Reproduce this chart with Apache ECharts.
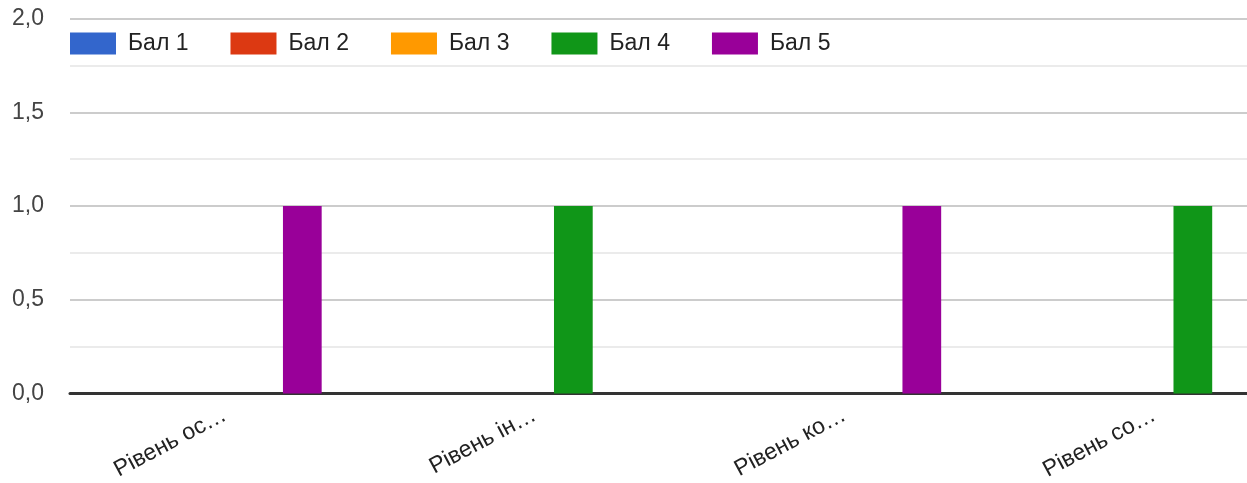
<!DOCTYPE html>
<html>
<head>
<meta charset="utf-8">
<script src="https://cdn.jsdelivr.net/npm/echarts@6/dist/echarts.min.js"></script>
<style>
html,body{margin:0;padding:0;background:#fff;overflow:hidden;width:1247px;height:483px;}
#chart{width:1310px;height:483px;}
</style>
</head>
<body>
<div id="chart"></div>
<script>
const categories = ['Рівень ос…', 'Рівень ін…', 'Рівень ко…', 'Рівень со…'];
const seriesNames = ['Бал 1', 'Бал 2', 'Бал 3', 'Бал 4', 'Бал 5'];
const bal1 = [0, 0, 0, 0];
const bal2 = [0, 0, 0, 0];
const bal3 = [0, 0, 0, 0];
const bal4 = [0, 1, 0, 1];
const bal5 = [1, 0, 1, 0];
const colors = ['#3366cc', '#dc3912', '#ff9900', '#109618', '#990099'];
const yTicks = [0, 0.5, 1, 1.5, 2];

const values = [bal1, bal2, bal3, bal4, bal5];
const FONT = '"Liberation Sans", Arial, sans-serif';

const chart = echarts.init(document.getElementById('chart'), null, {renderer: 'canvas'});
chart.setOption({
  animation: false,
  color: colors,
  legend: {
    left: 70,
    top: 32,
    padding: 0,
    itemWidth: 46,
    itemHeight: 22,
    itemGap: 42,
    icon: 'rect',
    textStyle: {fontFamily: FONT, fontSize: 23, color: '#222', padding: [0, 0, 0, 7]},
    data: seriesNames
  },
  grid: {left: 70, right: 1, top: 18.5, bottom: 89.5, containLabel: false, outerBoundsMode: 'none'},
  xAxis: {
    type: 'category',
    data: categories,
    axisLine: {show: true, lineStyle: {color: '#333', width: 3}},
    axisTick: {show: false},
    axisLabel: {
      interval: 0,
      rotate: 28,
      margin: 20,
      fontFamily: FONT,
      fontSize: 23,
      color: '#222'
    }
  },
  yAxis: {
    type: 'value',
    min: yTicks[0],
    max: yTicks[yTicks.length - 1],
    interval: 0.5,
    axisLine: {show: false},
    axisTick: {show: false},
    axisLabel: {
      margin: 26,
      fontFamily: FONT,
      fontSize: 23,
      color: '#444',
      formatter: v => v.toFixed(1).replace('.', ',')
    },
    splitLine: {show: true, lineStyle: {color: '#cccccc', width: 2}},
    minorTick: {show: false, splitNumber: 2},
    minorSplitLine: {show: true, lineStyle: {color: '#ebebeb', width: 2}}
  },
  series: seriesNames.map((name, i) => ({
    name: name,
    type: 'bar',
    data: values[i],
    barGap: '0%',
    barCategoryGap: '37.5%',
    itemStyle: {color: colors[i]}
  }))
});
</script>
</body>
</html>
